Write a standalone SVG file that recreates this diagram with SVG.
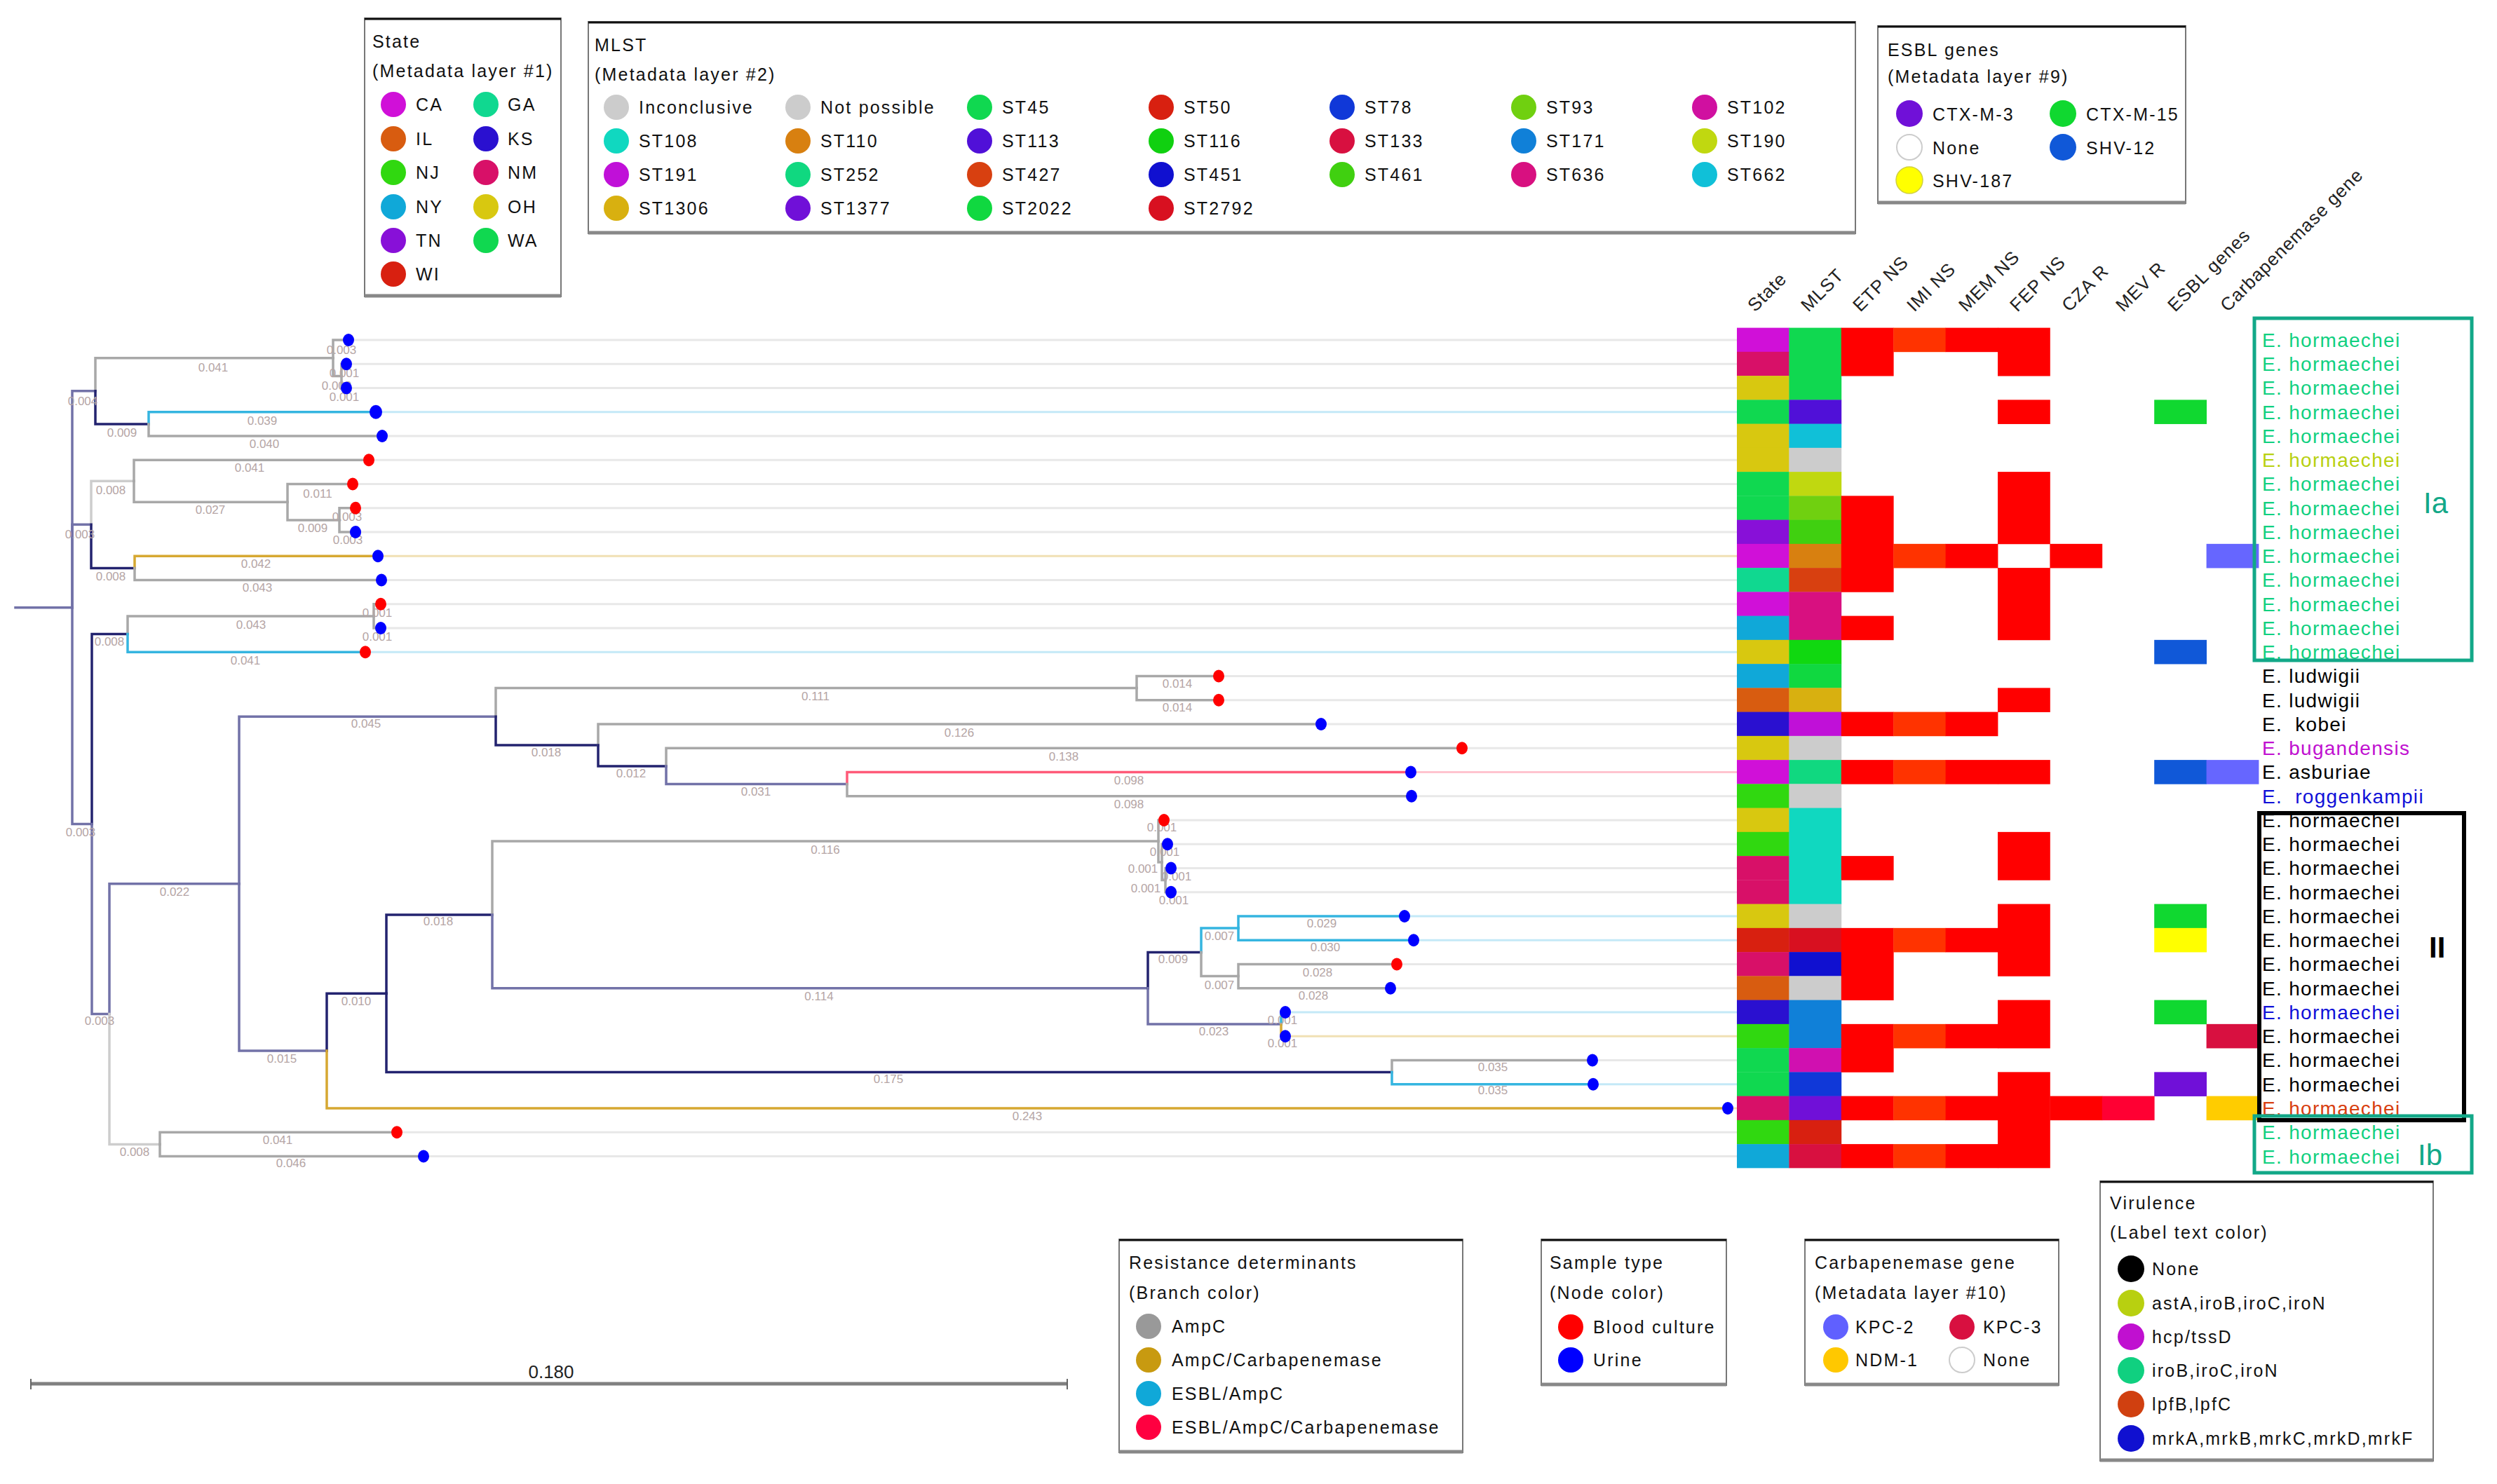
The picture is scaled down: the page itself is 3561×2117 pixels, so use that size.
<svg xmlns="http://www.w3.org/2000/svg" width="3561" height="2117" viewBox="0 0 3561 2117">
<style>
.b{fill:none;stroke-width:3.5;stroke-linecap:square}
.g{stroke:#a8a8a8}.lg{stroke:#cdcdcd}.cy{stroke:#35b5e0}.go{stroke:#d6a832}.rd{stroke:#ff5a78}.nv{stroke:#23236f}.lv{stroke:#7272a8}
.e{fill:none;stroke-width:3}.eg{stroke:#e8e8e8}.ecy{stroke:#c4e9f7}.ego{stroke:#f0e0b4}.erd{stroke:#ffc4cf}
.bl{font-family:"Liberation Sans",Arial,sans-serif;font-size:17px;fill:#b5a5a5;text-anchor:middle}
.u{fill:#0000ff}.r{fill:#ff0000}
.lt{font-family:"Liberation Sans",Arial,sans-serif;font-size:25px;letter-spacing:2.2px;fill:#111}
.tip{font-family:"Liberation Sans",Arial,sans-serif;font-size:28px;letter-spacing:1.3px;white-space:pre}
.hd{font-family:"Liberation Sans",Arial,sans-serif;font-size:26px;letter-spacing:1px;fill:#222}
.box{fill:#fff;stroke:#777;stroke-width:2}
.tl{stroke:#111;stroke-width:3}.bt{stroke:#888;stroke-width:5}
.teal{fill:#10d080}.yg{fill:#b8d010}.blk{fill:#000}.mag{fill:#c010d0}.blu{fill:#1010d8}.org{fill:#d84010}
</style>

<!-- legends -->
<g id="legend-state">
<rect class="box" x="520" y="26" width="280" height="397"/>
<line class="tl" x1="520" y1="27" x2="800" y2="27"/><line class="bt" x1="520" y1="422" x2="800" y2="422"/>
<text class="lt" x="531" y="68">State</text>
<text class="lt" x="531" y="110">(Metadata layer #1)</text>
<circle cx="561" cy="149" r="18" fill="#d010d8"/><text class="lt" x="593" y="158">CA</text>
<circle cx="693" cy="149" r="18" fill="#10d890"/><text class="lt" x="724" y="158">GA</text>
<circle cx="561" cy="198" r="18" fill="#d85c10"/><text class="lt" x="593" y="207">IL</text>
<circle cx="693" cy="198" r="18" fill="#2a10d0"/><text class="lt" x="724" y="207">KS</text>
<circle cx="561" cy="246" r="18" fill="#30d810"/><text class="lt" x="593" y="255">NJ</text>
<circle cx="693" cy="246" r="18" fill="#d81068"/><text class="lt" x="724" y="255">NM</text>
<circle cx="561" cy="295" r="18" fill="#10a8d8"/><text class="lt" x="593" y="304">NY</text>
<circle cx="693" cy="295" r="18" fill="#d8c810"/><text class="lt" x="724" y="304">OH</text>
<circle cx="561" cy="343" r="18" fill="#8810d8"/><text class="lt" x="593" y="352">TN</text>
<circle cx="693" cy="343" r="18" fill="#10d850"/><text class="lt" x="724" y="352">WA</text>
<circle cx="561" cy="391" r="18" fill="#d82010"/><text class="lt" x="593" y="400">WI</text>
</g>

<g id="legend-mlst">
<rect class="box" x="839" y="31" width="1807" height="302"/>
<line class="tl" x1="839" y1="32" x2="2646" y2="32"/><line class="bt" x1="839" y1="332" x2="2646" y2="332"/>
<text class="lt" x="848" y="73">MLST</text>
<text class="lt" x="848" y="115">(Metadata layer #2)</text>
<circle cx="879" cy="153" r="18" fill="#cccccc"/><text class="lt" x="911" y="162">Inconclusive</text>
<circle cx="1138" cy="153" r="18" fill="#cccccc"/><text class="lt" x="1170" y="162">Not possible</text>
<circle cx="1397" cy="153" r="18" fill="#10d850"/><text class="lt" x="1429" y="162">ST45</text>
<circle cx="1656" cy="153" r="18" fill="#d82010"/><text class="lt" x="1688" y="162">ST50</text>
<circle cx="1914" cy="153" r="18" fill="#1038d8"/><text class="lt" x="1946" y="162">ST78</text>
<circle cx="2173" cy="153" r="18" fill="#70d010"/><text class="lt" x="2205" y="162">ST93</text>
<circle cx="2431" cy="153" r="18" fill="#d010a0"/><text class="lt" x="2463" y="162">ST102</text>
<circle cx="879" cy="201" r="18" fill="#10d8c0"/><text class="lt" x="911" y="210">ST108</text>
<circle cx="1138" cy="201" r="18" fill="#d88010"/><text class="lt" x="1170" y="210">ST110</text>
<circle cx="1397" cy="201" r="18" fill="#5010d8"/><text class="lt" x="1429" y="210">ST113</text>
<circle cx="1656" cy="201" r="18" fill="#10d010"/><text class="lt" x="1688" y="210">ST116</text>
<circle cx="1914" cy="201" r="18" fill="#d81040"/><text class="lt" x="1946" y="210">ST133</text>
<circle cx="2173" cy="201" r="18" fill="#1080d8"/><text class="lt" x="2205" y="210">ST171</text>
<circle cx="2431" cy="201" r="18" fill="#c0d810"/><text class="lt" x="2463" y="210">ST190</text>
<circle cx="879" cy="249" r="18" fill="#c010d8"/><text class="lt" x="911" y="258">ST191</text>
<circle cx="1138" cy="249" r="18" fill="#10d880"/><text class="lt" x="1170" y="258">ST252</text>
<circle cx="1397" cy="249" r="18" fill="#d84010"/><text class="lt" x="1429" y="258">ST427</text>
<circle cx="1656" cy="249" r="18" fill="#1010d0"/><text class="lt" x="1688" y="258">ST451</text>
<circle cx="1914" cy="249" r="18" fill="#40d010"/><text class="lt" x="1946" y="258">ST461</text>
<circle cx="2173" cy="249" r="18" fill="#d81080"/><text class="lt" x="2205" y="258">ST636</text>
<circle cx="2431" cy="249" r="18" fill="#10c0d8"/><text class="lt" x="2463" y="258">ST662</text>
<circle cx="879" cy="297" r="18" fill="#d8b010"/><text class="lt" x="911" y="306">ST1306</text>
<circle cx="1138" cy="297" r="18" fill="#7010d8"/><text class="lt" x="1170" y="306">ST1377</text>
<circle cx="1397" cy="297" r="18" fill="#10d840"/><text class="lt" x="1429" y="306">ST2022</text>
<circle cx="1656" cy="297" r="18" fill="#d81020"/><text class="lt" x="1688" y="306">ST2792</text>
</g>

<g id="legend-esbl">
<rect class="box" x="2678" y="37" width="439" height="253"/>
<line class="tl" x1="2678" y1="38" x2="3117" y2="38"/><line class="bt" x1="2678" y1="289" x2="3117" y2="289"/>
<text class="lt" x="2692" y="80">ESBL genes</text>
<text class="lt" x="2692" y="118">(Metadata layer #9)</text>
<circle cx="2723" cy="162" r="19" fill="#7010d8"/><text class="lt" x="2756" y="172">CTX-M-3</text>
<circle cx="2942" cy="162" r="19" fill="#10d830"/><text class="lt" x="2975" y="172">CTX-M-15</text>
<circle cx="2723" cy="210" r="18" fill="#fff" stroke="#cccccc" stroke-width="2"/><text class="lt" x="2756" y="220">None</text>
<circle cx="2942" cy="210" r="19" fill="#1058d8"/><text class="lt" x="2975" y="220">SHV-12</text>
<circle cx="2723" cy="257" r="19" fill="#ffff00" stroke="#d0d040" stroke-width="1.5"/><text class="lt" x="2756" y="267">SHV-187</text>
</g>

<g id="legend-resistance">
<rect class="box" x="1596" y="1768" width="490" height="304"/>
<line class="tl" x1="1596" y1="1769" x2="2086" y2="1769"/><line class="bt" x1="1596" y1="2071" x2="2086" y2="2071"/>
<text class="lt" x="1610" y="1810">Resistance determinants</text>
<text class="lt" x="1610" y="1853">(Branch color)</text>
<circle cx="1638" cy="1892" r="18" fill="#999999"/><text class="lt" x="1671" y="1901">AmpC</text>
<circle cx="1638" cy="1940" r="18" fill="#c89a10"/><text class="lt" x="1671" y="1949">AmpC/Carbapenemase</text>
<circle cx="1638" cy="1988" r="18" fill="#10a8d8"/><text class="lt" x="1671" y="1997">ESBL/AmpC</text>
<circle cx="1638" cy="2036" r="18" fill="#ff0040"/><text class="lt" x="1671" y="2045">ESBL/AmpC/Carbapenemase</text>
</g>

<g id="legend-sample">
<rect class="box" x="2198" y="1768" width="264" height="208"/>
<line class="tl" x1="2198" y1="1769" x2="2462" y2="1769"/><line class="bt" x1="2198" y1="1975" x2="2462" y2="1975"/>
<text class="lt" x="2210" y="1810">Sample type</text>
<text class="lt" x="2210" y="1853">(Node color)</text>
<circle cx="2240" cy="1893" r="18" fill="#ff0000"/><text class="lt" x="2272" y="1902">Blood culture</text>
<circle cx="2240" cy="1940" r="18" fill="#0000ff"/><text class="lt" x="2272" y="1949">Urine</text>
</g>

<g id="legend-carbapenemase">
<rect class="box" x="2574" y="1768" width="362" height="208"/>
<line class="tl" x1="2574" y1="1769" x2="2936" y2="1769"/><line class="bt" x1="2574" y1="1975" x2="2936" y2="1975"/>
<text class="lt" x="2588" y="1810">Carbapenemase gene</text>
<text class="lt" x="2588" y="1853">(Metadata layer #10)</text>
<circle cx="2618" cy="1893" r="18" fill="#6060ff"/><text class="lt" x="2646" y="1902">KPC-2</text>
<circle cx="2798" cy="1893" r="18" fill="#d81040"/><text class="lt" x="2828" y="1902">KPC-3</text>
<circle cx="2618" cy="1940" r="18" fill="#ffc800"/><text class="lt" x="2646" y="1949">NDM-1</text>
<circle cx="2798" cy="1940" r="18" fill="#fff" stroke="#cccccc" stroke-width="2"/><text class="lt" x="2828" y="1949">None</text>
</g>

<g id="legend-virulence">
<rect class="box" x="2995" y="1685" width="475" height="399"/>
<line class="tl" x1="2995" y1="1686" x2="3470" y2="1686"/><line class="bt" x1="2995" y1="2083" x2="3470" y2="2083"/>
<text class="lt" x="3009" y="1725">Virulence</text>
<text class="lt" x="3009" y="1767">(Label text color)</text>
<circle cx="3039" cy="1810" r="19" fill="#000"/><text class="lt" x="3069" y="1819">None</text>
<circle cx="3039" cy="1859" r="19" fill="#b8d010"/><text class="lt" x="3069" y="1868">astA,iroB,iroC,iroN</text>
<circle cx="3039" cy="1907" r="19" fill="#c010d0"/><text class="lt" x="3069" y="1916">hcp/tssD</text>
<circle cx="3039" cy="1955" r="19" fill="#10d080"/><text class="lt" x="3069" y="1964">iroB,iroC,iroN</text>
<circle cx="3039" cy="2003" r="19" fill="#d04010"/><text class="lt" x="3069" y="2012">lpfB,lpfC</text>
<circle cx="3039" cy="2052" r="19" fill="#1010d0"/><text class="lt" x="3069" y="2061">mrkA,mrkB,mrkC,mrkD,mrkF</text>
</g>

<g id="scale-bar">
<line x1="44" y1="1974" x2="1522" y2="1974" stroke="#808080" stroke-width="5"/>
<line x1="44" y1="1967" x2="44" y2="1982" stroke="#666" stroke-width="2"/>
<line x1="1522" y1="1967" x2="1522" y2="1982" stroke="#666" stroke-width="2"/>
<text x="786" y="1966" font-family="Liberation Sans, Arial, sans-serif" font-size="26" fill="#222" text-anchor="middle">0.180</text>
</g>

<!-- leaf extension lines -->
<g id="leaf-extensions">
<path class="e eg" d="M497,485H2477"/>
<path class="e eg" d="M494,519.25H2477"/>
<path class="e eg" d="M494,553.5H2477"/>
<path class="e ecy" d="M536,587.75H2477"/>
<path class="e eg" d="M545,622H2477"/>
<path class="e eg" d="M526,656.25H2477"/>
<path class="e eg" d="M503,690.5H2477"/>
<path class="e eg" d="M507,724.75H2477"/>
<path class="e eg" d="M507,759H2477"/>
<path class="e ego" d="M539,793.25H2477"/>
<path class="e eg" d="M544,827.5H2477"/>
<path class="e eg" d="M543,861.75H2477"/>
<path class="e eg" d="M543,896H2477"/>
<path class="e ecy" d="M521,930.25H2477"/>
<path class="e eg" d="M1738,964.5H2477"/>
<path class="e eg" d="M1738,998.75H2477"/>
<path class="e eg" d="M1884,1033H2477"/>
<path class="e eg" d="M2085,1067.25H2477"/>
<path class="e erd" d="M2012,1101.5H2477"/>
<path class="e eg" d="M2013,1135.75H2477"/>
<path class="e eg" d="M1660,1170H2477"/>
<path class="e eg" d="M1665,1204.25H2477"/>
<path class="e eg" d="M1670,1238.5H2477"/>
<path class="e eg" d="M1670,1272.75H2477"/>
<path class="e ecy" d="M2003,1307H2477"/>
<path class="e ecy" d="M2016,1341.25H2477"/>
<path class="e eg" d="M1992,1375.5H2477"/>
<path class="e eg" d="M1983,1409.75H2477"/>
<path class="e ecy" d="M1833,1444H2477"/>
<path class="e ego" d="M1833,1478.25H2477"/>
<path class="e eg" d="M2271,1512.5H2477"/>
<path class="e ecy" d="M2272,1546.75H2477"/>
<path class="e ego" d="M2464,1581H2477"/>
<path class="e eg" d="M566,1615.25H2477"/>
<path class="e eg" d="M604,1649.5H2477"/>
</g>

<!-- tree branches (connectors) -->
<g id="connectors">
<path class="b lv" d="M22,866.7H103"/>
<path class="b lv" d="M103,866.7V557.8H136"/>
<path class="b lv" d="M103,866.7V748.3H130"/>
<path class="b lv" d="M103,866.7V1175.5H131"/>
<path class="b g" d="M136,557.8V510.7H475"/>
<path class="b nv" d="M136,557.8V604.9H212"/>
<path class="b g" d="M475,510.7V485H497"/>
<path class="b g" d="M475,510.7V536.4H487"/>
<path class="b g" d="M487,536.4V519.25H494"/>
<path class="b g" d="M487,536.4V553.5H494"/>
<path class="b cy" d="M212,604.9V587.75H536"/>
<path class="b g" d="M212,604.9V622H545"/>
<path class="b lg" d="M130,748.3V686.2H191"/>
<path class="b nv" d="M130,748.3V810.4H192"/>
<path class="b g" d="M191,686.2V656.25H526"/>
<path class="b g" d="M191,686.2V716.2H410"/>
<path class="b g" d="M410,716.2V690.5H503"/>
<path class="b g" d="M410,716.2V741.9H484"/>
<path class="b g" d="M484,741.9V724.75H507"/>
<path class="b g" d="M484,741.9V759H507"/>
<path class="b go" d="M192,810.4V793.25H539"/>
<path class="b g" d="M192,810.4V827.5H544"/>
<path class="b nv" d="M131,1175.5V904.6H182"/>
<path class="b lv" d="M131,1175.5V1446.5H156"/>
<path class="b g" d="M182,904.6V878.9H533"/>
<path class="b cy" d="M182,904.6V930.25H521"/>
<path class="b g" d="M533,878.9V861.75H543"/>
<path class="b g" d="M533,878.9V896H543"/>
<path class="b lv" d="M156,1446.5V1260.7H341"/>
<path class="b lg" d="M156,1446.5V1632.4H228"/>
<path class="b g" d="M228,1632.4V1615.25H566"/>
<path class="b g" d="M228,1632.4V1649.5H604"/>
<path class="b lv" d="M341,1260.7V1022.3H707"/>
<path class="b lv" d="M341,1260.7V1499H466"/>
<path class="b g" d="M707,1022.3V981.6H1621"/>
<path class="b nv" d="M707,1022.3V1063H853"/>
<path class="b g" d="M1621,981.6V964.5H1738"/>
<path class="b g" d="M1621,981.6V998.75H1738"/>
<path class="b g" d="M853,1063V1033H1884"/>
<path class="b nv" d="M853,1063V1092.9H950"/>
<path class="b g" d="M950,1092.9V1067.25H2085"/>
<path class="b lv" d="M950,1092.9V1118.6H1208"/>
<path class="b rd" d="M1208,1118.6V1101.5H2012"/>
<path class="b g" d="M1208,1118.6V1135.75H2013"/>
<path class="b nv" d="M466,1499V1417.3H551"/>
<path class="b go" d="M466,1499V1581H2464"/>
<path class="b nv" d="M551,1417.3V1304.9H702"/>
<path class="b nv" d="M551,1417.3V1529.6H1985"/>
<path class="b g" d="M1985,1529.6V1512.5H2271"/>
<path class="b cy" d="M1985,1529.6V1546.75H2272"/>
<path class="b g" d="M702,1304.9V1200H1652"/>
<path class="b lv" d="M702,1304.9V1409.8H1637"/>
<path class="b g" d="M1652,1200V1170H1660"/>
<path class="b g" d="M1652,1200V1229.9H1657"/>
<path class="b g" d="M1657,1229.9V1204.25H1665"/>
<path class="b g" d="M1657,1229.9V1255.6H1662"/>
<path class="b g" d="M1662,1255.6V1238.5H1670"/>
<path class="b g" d="M1662,1255.6V1272.75H1670"/>
<path class="b nv" d="M1637,1409.8V1358.4H1713"/>
<path class="b lv" d="M1637,1409.8V1461.1H1827"/>
<path class="b cy" d="M1713,1358.4V1324.1H1766"/>
<path class="b g" d="M1713,1358.4V1392.6H1766"/>
<path class="b cy" d="M1766,1324.1V1307H2003"/>
<path class="b cy" d="M1766,1324.1V1341.25H2016"/>
<path class="b g" d="M1766,1392.6V1375.5H1992"/>
<path class="b g" d="M1766,1392.6V1409.75H1983"/>
<path class="b cy" d="M1827,1461.1V1444H1833"/>
<path class="b go" d="M1827,1461.1V1478.25H1833"/>
</g>

<!-- branch length labels -->
<g id="branch-labels">
<text class="bl" x="118" y="578">0.004</text>
<text class="bl" x="304" y="530">0.041</text>
<text class="bl" x="487" y="505">0.003</text>
<text class="bl" x="491" y="538">0.001</text>
<text class="bl" x="480" y="556">0.002</text>
<text class="bl" x="491" y="572">0.001</text>
<text class="bl" x="174" y="623">0.009</text>
<text class="bl" x="374" y="606">0.039</text>
<text class="bl" x="377" y="639">0.040</text>
<text class="bl" x="114" y="768">0.003</text>
<text class="bl" x="158" y="705">0.008</text>
<text class="bl" x="356" y="673">0.041</text>
<text class="bl" x="300" y="733">0.027</text>
<text class="bl" x="453" y="710">0.011</text>
<text class="bl" x="446" y="759">0.009</text>
<text class="bl" x="495" y="743">0.003</text>
<text class="bl" x="496" y="776">0.003</text>
<text class="bl" x="158" y="828">0.008</text>
<text class="bl" x="365" y="810">0.042</text>
<text class="bl" x="367" y="844">0.043</text>
<text class="bl" x="156" y="921">0.008</text>
<text class="bl" x="358" y="897">0.043</text>
<text class="bl" x="538" y="880">0.001</text>
<text class="bl" x="538" y="914">0.001</text>
<text class="bl" x="350" y="948">0.041</text>
<text class="bl" x="115" y="1193">0.003</text>
<text class="bl" x="522" y="1038">0.045</text>
<text class="bl" x="249" y="1278">0.022</text>
<text class="bl" x="625" y="1320">0.018</text>
<text class="bl" x="508" y="1434">0.010</text>
<text class="bl" x="142" y="1462">0.003</text>
<text class="bl" x="402" y="1516">0.015</text>
<text class="bl" x="396" y="1632">0.041</text>
<text class="bl" x="192" y="1649">0.008</text>
<text class="bl" x="415" y="1665">0.046</text>
<text class="bl" x="1163" y="999">0.111</text>
<text class="bl" x="1368" y="1051">0.126</text>
<text class="bl" x="779" y="1079">0.018</text>
<text class="bl" x="1517" y="1085">0.138</text>
<text class="bl" x="900" y="1109">0.012</text>
<text class="bl" x="1078" y="1135">0.031</text>
<text class="bl" x="1177" y="1218">0.116</text>
<text class="bl" x="1168" y="1427">0.114</text>
<text class="bl" x="1267" y="1545">0.175</text>
<text class="bl" x="1465" y="1598">0.243</text>
<text class="bl" x="1679" y="981">0.014</text>
<text class="bl" x="1679" y="1015">0.014</text>
<text class="bl" x="1610" y="1119">0.098</text>
<text class="bl" x="1610" y="1153">0.098</text>
<text class="bl" x="1657" y="1186">0.001</text>
<text class="bl" x="1661" y="1221">0.001</text>
<text class="bl" x="1630" y="1245">0.001</text>
<text class="bl" x="1678" y="1256">0.001</text>
<text class="bl" x="1634" y="1273">0.001</text>
<text class="bl" x="1674" y="1290">0.001</text>
<text class="bl" x="1885" y="1323">0.029</text>
<text class="bl" x="1739" y="1341">0.007</text>
<text class="bl" x="1890" y="1357">0.030</text>
<text class="bl" x="1673" y="1374">0.009</text>
<text class="bl" x="1879" y="1393">0.028</text>
<text class="bl" x="1739" y="1411">0.007</text>
<text class="bl" x="1873" y="1426">0.028</text>
<text class="bl" x="1829" y="1461">0.001</text>
<text class="bl" x="1731" y="1477">0.023</text>
<text class="bl" x="1829" y="1494">0.001</text>
<text class="bl" x="2129" y="1528">0.035</text>
<text class="bl" x="2129" y="1561">0.035</text>
</g>

<!-- heatmap -->
<g id="heatmap-headers">
<text class="hd" transform="translate(2503,446) rotate(-45)">State</text>
<text class="hd" transform="translate(2579,446) rotate(-45)">MLST</text>
<text class="hd" transform="translate(2653,446) rotate(-45)">ETP NS</text>
<text class="hd" transform="translate(2730,446) rotate(-45)">IMI NS</text>
<text class="hd" transform="translate(2804,446) rotate(-45)">MEM NS</text>
<text class="hd" transform="translate(2877,446) rotate(-45)">FEP NS</text>
<text class="hd" transform="translate(2951,446) rotate(-45)">CZA R</text>
<text class="hd" transform="translate(3028,446) rotate(-45)">MEV R</text>
<text class="hd" transform="translate(3102,446) rotate(-45)">ESBL genes</text>
<text class="hd" transform="translate(3177,446) rotate(-45)">Carbapenemase gene</text>
</g>
<g id="heatmap-state">
<rect x="2477" y="467.6" width="74.8" height="34.6" fill="#d010d8"/>
<rect x="2477" y="501.85" width="74.8" height="34.6" fill="#d81068"/>
<rect x="2477" y="536.1" width="74.8" height="34.6" fill="#d8c810"/>
<rect x="2477" y="570.35" width="74.8" height="34.6" fill="#10d850"/>
<rect x="2477" y="604.6" width="74.8" height="34.6" fill="#d8c810"/>
<rect x="2477" y="638.85" width="74.8" height="34.6" fill="#d8c810"/>
<rect x="2477" y="673.1" width="74.8" height="34.6" fill="#10d850"/>
<rect x="2477" y="707.35" width="74.8" height="34.6" fill="#10d850"/>
<rect x="2477" y="741.6" width="74.8" height="34.6" fill="#8810d8"/>
<rect x="2477" y="775.85" width="74.8" height="34.6" fill="#d010d8"/>
<rect x="2477" y="810.1" width="74.8" height="34.6" fill="#10d890"/>
<rect x="2477" y="844.35" width="74.8" height="34.6" fill="#d010d8"/>
<rect x="2477" y="878.6" width="74.8" height="34.6" fill="#10a8d8"/>
<rect x="2477" y="912.85" width="74.8" height="34.6" fill="#d8c810"/>
<rect x="2477" y="947.1" width="74.8" height="34.6" fill="#10a8d8"/>
<rect x="2477" y="981.35" width="74.8" height="34.6" fill="#d85c10"/>
<rect x="2477" y="1015.6" width="74.8" height="34.6" fill="#2a10d0"/>
<rect x="2477" y="1049.85" width="74.8" height="34.6" fill="#d8c810"/>
<rect x="2477" y="1084.1" width="74.8" height="34.6" fill="#d010d8"/>
<rect x="2477" y="1118.35" width="74.8" height="34.6" fill="#30d810"/>
<rect x="2477" y="1152.6" width="74.8" height="34.6" fill="#d8c810"/>
<rect x="2477" y="1186.85" width="74.8" height="34.6" fill="#30d810"/>
<rect x="2477" y="1221.1" width="74.8" height="34.6" fill="#d81068"/>
<rect x="2477" y="1255.35" width="74.8" height="34.6" fill="#d81068"/>
<rect x="2477" y="1289.6" width="74.8" height="34.6" fill="#d8c810"/>
<rect x="2477" y="1323.85" width="74.8" height="34.6" fill="#d82010"/>
<rect x="2477" y="1358.1" width="74.8" height="34.6" fill="#d81068"/>
<rect x="2477" y="1392.35" width="74.8" height="34.6" fill="#d85c10"/>
<rect x="2477" y="1426.6" width="74.8" height="34.6" fill="#2a10d0"/>
<rect x="2477" y="1460.85" width="74.8" height="34.6" fill="#30d810"/>
<rect x="2477" y="1495.1" width="74.8" height="34.6" fill="#10d850"/>
<rect x="2477" y="1529.35" width="74.8" height="34.6" fill="#10d850"/>
<rect x="2477" y="1563.6" width="74.8" height="34.6" fill="#d81068"/>
<rect x="2477" y="1597.85" width="74.8" height="34.6" fill="#30d810"/>
<rect x="2477" y="1632.1" width="74.8" height="34.25" fill="#10a8d8"/>
</g>
<g id="heatmap-mlst">
<rect x="2551.4" y="467.6" width="74.8" height="103.15" fill="#10d850"/>
<rect x="2551.4" y="570.35" width="74.8" height="34.6" fill="#5010d8"/>
<rect x="2551.4" y="604.6" width="74.8" height="34.6" fill="#10c0d8"/>
<rect x="2551.4" y="638.85" width="74.8" height="34.6" fill="#cccccc"/>
<rect x="2551.4" y="673.1" width="74.8" height="34.6" fill="#c0d810"/>
<rect x="2551.4" y="707.35" width="74.8" height="34.6" fill="#70d010"/>
<rect x="2551.4" y="741.6" width="74.8" height="34.6" fill="#40d010"/>
<rect x="2551.4" y="775.85" width="74.8" height="34.6" fill="#d88010"/>
<rect x="2551.4" y="810.1" width="74.8" height="34.6" fill="#d84010"/>
<rect x="2551.4" y="844.35" width="74.8" height="68.9" fill="#d81080"/>
<rect x="2551.4" y="912.85" width="74.8" height="34.6" fill="#10d810"/>
<rect x="2551.4" y="947.1" width="74.8" height="34.6" fill="#10d840"/>
<rect x="2551.4" y="981.35" width="74.8" height="34.6" fill="#d8b010"/>
<rect x="2551.4" y="1015.6" width="74.8" height="34.6" fill="#c010d8"/>
<rect x="2551.4" y="1049.85" width="74.8" height="34.6" fill="#cccccc"/>
<rect x="2551.4" y="1084.1" width="74.8" height="34.6" fill="#10d880"/>
<rect x="2551.4" y="1118.35" width="74.8" height="34.6" fill="#cccccc"/>
<rect x="2551.4" y="1152.6" width="74.8" height="137.4" fill="#10d8c0"/>
<rect x="2551.4" y="1289.6" width="74.8" height="34.6" fill="#cccccc"/>
<rect x="2551.4" y="1323.85" width="74.8" height="34.6" fill="#d81020"/>
<rect x="2551.4" y="1358.1" width="74.8" height="34.6" fill="#1010d0"/>
<rect x="2551.4" y="1392.35" width="74.8" height="34.6" fill="#cccccc"/>
<rect x="2551.4" y="1426.6" width="74.8" height="68.9" fill="#1080d8"/>
<rect x="2551.4" y="1495.1" width="74.8" height="34.6" fill="#d010b0"/>
<rect x="2551.4" y="1529.35" width="74.8" height="34.6" fill="#1038d8"/>
<rect x="2551.4" y="1563.6" width="74.8" height="34.6" fill="#7010d8"/>
<rect x="2551.4" y="1597.85" width="74.8" height="34.6" fill="#d82010"/>
<rect x="2551.4" y="1632.1" width="74.8" height="34.25" fill="#d81040"/>
</g>
<g id="heatmap-resistance" fill="#ff0000">
<rect x="2625.8" y="467.6" width="74.8" height="68.9"/>
<rect x="2625.8" y="707.35" width="74.8" height="137.4"/>
<rect x="2625.8" y="878.6" width="74.8" height="34.6"/>
<rect x="2625.8" y="1015.6" width="74.8" height="34.6"/>
<rect x="2625.8" y="1084.1" width="74.8" height="34.6"/>
<rect x="2625.8" y="1221.1" width="74.8" height="34.6"/>
<rect x="2625.8" y="1323.85" width="74.8" height="103.15"/>
<rect x="2625.8" y="1460.85" width="74.8" height="68.9"/>
<rect x="2625.8" y="1563.6" width="74.8" height="34.6"/>
<rect x="2625.8" y="1632.1" width="74.8" height="34.25"/>
<g fill="#ff3300">
<rect x="2700.2" y="467.6" width="74.8" height="34.6"/>
<rect x="2700.2" y="775.85" width="74.8" height="34.6"/>
<rect x="2700.2" y="1015.6" width="74.8" height="34.6"/>
<rect x="2700.2" y="1084.1" width="74.8" height="34.6"/>
<rect x="2700.2" y="1323.85" width="74.8" height="34.6"/>
<rect x="2700.2" y="1460.85" width="74.8" height="34.6"/>
<rect x="2700.2" y="1563.6" width="74.8" height="34.6"/>
<rect x="2700.2" y="1632.1" width="74.8" height="34.25"/>
</g>
<rect x="2774.6" y="467.6" width="74.8" height="34.6"/>
<rect x="2774.6" y="775.85" width="74.8" height="34.6"/>
<rect x="2774.6" y="1015.6" width="74.8" height="34.6"/>
<rect x="2774.6" y="1084.1" width="74.8" height="34.6"/>
<rect x="2774.6" y="1323.85" width="74.8" height="34.6"/>
<rect x="2774.6" y="1460.85" width="74.8" height="34.6"/>
<rect x="2774.6" y="1563.6" width="74.8" height="34.6"/>
<rect x="2774.6" y="1632.1" width="74.8" height="34.25"/>
<rect x="2849" y="467.6" width="74.8" height="68.9"/>
<rect x="2849" y="570.35" width="74.8" height="34.6"/>
<rect x="2849" y="673.1" width="74.8" height="103.15"/>
<rect x="2849" y="810.1" width="74.8" height="103.15"/>
<rect x="2849" y="981.35" width="74.8" height="34.6"/>
<rect x="2849" y="1084.1" width="74.8" height="34.6"/>
<rect x="2849" y="1186.85" width="74.8" height="68.9"/>
<rect x="2849" y="1289.6" width="74.8" height="103.15"/>
<rect x="2849" y="1426.6" width="74.8" height="68.9"/>
<rect x="2849" y="1529.35" width="74.8" height="137"/>
<rect x="2923.4" y="775.85" width="74.8" height="34.6"/>
<rect x="2923.4" y="1563.6" width="74.8" height="34.6"/>
<rect x="2997.8" y="1563.6" width="74.8" height="34.6" fill="#ff0033"/>
</g>
<g id="heatmap-esbl">
<rect x="3072.2" y="570.35" width="74.8" height="34.6" fill="#10d830"/>
<rect x="3072.2" y="912.85" width="74.8" height="34.6" fill="#1058d8"/>
<rect x="3072.2" y="1084.1" width="74.8" height="34.6" fill="#1058d8"/>
<rect x="3072.2" y="1289.6" width="74.8" height="34.6" fill="#10d830"/>
<rect x="3072.2" y="1323.85" width="74.8" height="34.6" fill="#ffff00"/>
<rect x="3072.2" y="1426.6" width="74.8" height="34.6" fill="#10d830"/>
<rect x="3072.2" y="1529.35" width="74.8" height="34.6" fill="#7010d8"/>
</g>
<g id="heatmap-carbapenemase">
<rect x="3146.6" y="775.85" width="74.8" height="34.6" fill="#6666ff"/>
<rect x="3146.6" y="1084.1" width="74.8" height="34.6" fill="#6666ff"/>
<rect x="3146.6" y="1460.85" width="74.8" height="34.6" fill="#d81040"/>
<rect x="3146.6" y="1563.6" width="74.8" height="34.6" fill="#ffcc00"/>
</g>

<!-- leaf nodes -->
<g id="leaf-01"><ellipse class="u" cx="497" cy="485" rx="8" ry="9"/><text class="tip teal" x="3226" y="495">E. hormaechei</text></g>
<g id="leaf-02"><ellipse class="u" cx="494" cy="519.25" rx="8" ry="9"/><text class="tip teal" x="3226" y="529">E. hormaechei</text></g>
<g id="leaf-03"><ellipse class="u" cx="494" cy="553.5" rx="8" ry="9"/><text class="tip teal" x="3226" y="563">E. hormaechei</text></g>
<g id="leaf-04"><ellipse class="u" cx="536" cy="587.75" rx="9" ry="10"/><text class="tip teal" x="3226" y="598">E. hormaechei</text></g>
<g id="leaf-05"><ellipse class="u" cx="545" cy="622" rx="8" ry="9"/><text class="tip teal" x="3226" y="632">E. hormaechei</text></g>
<g id="leaf-06"><ellipse class="r" cx="526" cy="656.25" rx="8" ry="9"/><text class="tip yg" x="3226" y="666">E. hormaechei</text></g>
<g id="leaf-07"><ellipse class="r" cx="503" cy="690.5" rx="8" ry="9"/><text class="tip teal" x="3226" y="700">E. hormaechei</text></g>
<g id="leaf-08"><ellipse class="r" cx="507" cy="724.75" rx="8" ry="9"/><text class="tip teal" x="3226" y="735">E. hormaechei</text></g>
<g id="leaf-09"><ellipse class="u" cx="507" cy="759" rx="8" ry="9"/><text class="tip teal" x="3226" y="769">E. hormaechei</text></g>
<g id="leaf-10"><ellipse class="u" cx="539" cy="793.25" rx="8" ry="9"/><text class="tip teal" x="3226" y="803">E. hormaechei</text></g>
<g id="leaf-11"><ellipse class="u" cx="544" cy="827.5" rx="8" ry="9"/><text class="tip teal" x="3226" y="837">E. hormaechei</text></g>
<g id="leaf-12"><ellipse class="r" cx="543" cy="861.75" rx="8" ry="9"/><text class="tip teal" x="3226" y="872">E. hormaechei</text></g>
<g id="leaf-13"><ellipse class="u" cx="543" cy="896" rx="8" ry="9"/><text class="tip teal" x="3226" y="906">E. hormaechei</text></g>
<g id="leaf-14"><ellipse class="r" cx="521" cy="930.25" rx="8" ry="9"/><text class="tip teal" x="3226" y="940">E. hormaechei</text></g>
<g id="leaf-15"><ellipse class="r" cx="1738" cy="964.5" rx="8" ry="9"/><text class="tip blk" x="3226" y="974">E. ludwigii</text></g>
<g id="leaf-16"><ellipse class="r" cx="1738" cy="998.75" rx="8" ry="9"/><text class="tip blk" x="3226" y="1009">E. ludwigii</text></g>
<g id="leaf-17"><ellipse class="u" cx="1884" cy="1033" rx="8" ry="9"/><text class="tip blk" x="3226" y="1043">E.  kobei</text></g>
<g id="leaf-18"><ellipse class="r" cx="2085" cy="1067.25" rx="8" ry="9"/><text class="tip mag" x="3226" y="1077">E. bugandensis</text></g>
<g id="leaf-19"><ellipse class="u" cx="2012" cy="1101.5" rx="8" ry="9"/><text class="tip blk" x="3226" y="1111">E. asburiae</text></g>
<g id="leaf-20"><ellipse class="u" cx="2013" cy="1135.75" rx="8" ry="9"/><text class="tip blu" x="3226" y="1146">E.  roggenkampii</text></g>
<g id="leaf-21"><ellipse class="r" cx="1660" cy="1170" rx="8" ry="9"/><text class="tip blk" x="3226" y="1180">E. hormaechei</text></g>
<g id="leaf-22"><ellipse class="u" cx="1665" cy="1204.25" rx="8" ry="9"/><text class="tip blk" x="3226" y="1214">E. hormaechei</text></g>
<g id="leaf-23"><ellipse class="u" cx="1670" cy="1238.5" rx="8" ry="9"/><text class="tip blk" x="3226" y="1248">E. hormaechei</text></g>
<g id="leaf-24"><ellipse class="u" cx="1670" cy="1272.75" rx="8" ry="9"/><text class="tip blk" x="3226" y="1283">E. hormaechei</text></g>
<g id="leaf-25"><ellipse class="u" cx="2003" cy="1307" rx="8" ry="9"/><text class="tip blk" x="3226" y="1317">E. hormaechei</text></g>
<g id="leaf-26"><ellipse class="u" cx="2016" cy="1341.25" rx="8" ry="9"/><text class="tip blk" x="3226" y="1351">E. hormaechei</text></g>
<g id="leaf-27"><ellipse class="r" cx="1992" cy="1375.5" rx="8" ry="9"/><text class="tip blk" x="3226" y="1385">E. hormaechei</text></g>
<g id="leaf-28"><ellipse class="u" cx="1983" cy="1409.75" rx="8" ry="9"/><text class="tip blk" x="3226" y="1420">E. hormaechei</text></g>
<g id="leaf-29"><ellipse class="u" cx="1833" cy="1444" rx="8" ry="9"/><text class="tip blu" x="3226" y="1454">E. hormaechei</text></g>
<g id="leaf-30"><ellipse class="u" cx="1833" cy="1478.25" rx="8" ry="9"/><text class="tip blk" x="3226" y="1488">E. hormaechei</text></g>
<g id="leaf-31"><ellipse class="u" cx="2271" cy="1512.5" rx="8" ry="9"/><text class="tip blk" x="3226" y="1522">E. hormaechei</text></g>
<g id="leaf-32"><ellipse class="u" cx="2272" cy="1546.75" rx="8" ry="9"/><text class="tip blk" x="3226" y="1557">E. hormaechei</text></g>
<g id="leaf-33"><ellipse class="u" cx="2464" cy="1581" rx="8" ry="9"/><text class="tip org" x="3226" y="1591">E. hormaechei</text></g>
<g id="leaf-34"><ellipse class="r" cx="566" cy="1615.25" rx="8" ry="9"/><text class="tip teal" x="3226" y="1625">E. hormaechei</text></g>
<g id="leaf-35"><ellipse class="u" cx="604" cy="1649.5" rx="8" ry="9"/><text class="tip teal" x="3226" y="1660">E. hormaechei</text></g>

<!-- clade boxes -->
<g id="clade-Ia">
<rect x="3215" y="454" width="310" height="488" fill="none" stroke="#12a888" stroke-width="5"/>
<text x="3456" y="732" font-family="Liberation Sans, Arial, sans-serif" font-size="42" fill="#12a888">Ia</text>
</g>
<g id="clade-II">
<rect x="3222" y="1160" width="292" height="438" fill="none" stroke="#000" stroke-width="6"/>
<text x="3464" y="1366" font-family="Liberation Sans, Arial, sans-serif" font-size="42" font-weight="bold" fill="#000">II</text>
</g>
<g id="clade-Ib">
<rect x="3215" y="1592" width="310" height="81" fill="none" stroke="#12a888" stroke-width="5"/>
<text x="3448" y="1662" font-family="Liberation Sans, Arial, sans-serif" font-size="42" fill="#12a888">Ib</text>
</g>
</svg>
